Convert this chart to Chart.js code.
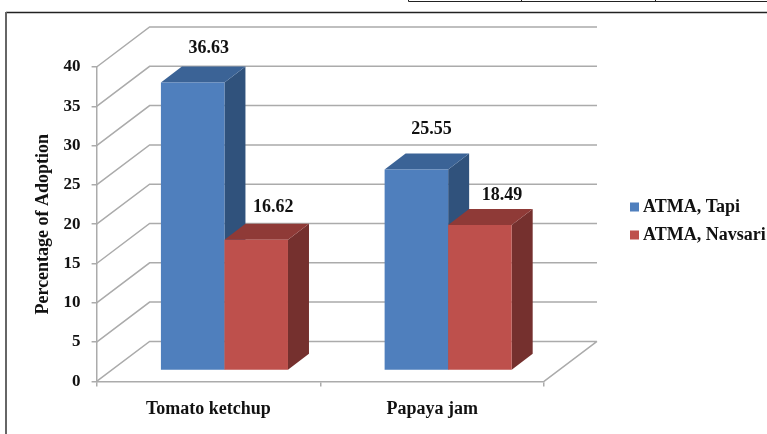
<!DOCTYPE html>
<html>
<head>
<meta charset="utf-8">
<style>
  html, body { margin: 0; padding: 0; background: #fff; }
  #wrap { width: 767px; height: 434px; }
</style>
<script src="https://cdn.jsdelivr.net/npm/chart.js"></script>
</head>
<body>
<div id="wrap"><canvas id="adoptionChart"></canvas></div>
<script>
// Data
const categories = ["Tomato ketchup", "Papaya jam"];
const seriesNames = ["ATMA, Tapi", "ATMA, Navsari"];
const tapiValues = [36.63, 25.55];
const navsariValues = [16.62, 18.49];
const yTicks = [0, 5, 10, 15, 20, 25, 30, 35, 40];

// Colours: front, top, side of each bar
const faceColors = ["#4f7fbd", "#be504c"];
const topColors = ["#3b6396", "#8f3a37"];
const sideColors = ["#30527c", "#75302e"];
const gridColor = "#ababab";

const serifFont = "'Liberation Serif', serif";

// 3D look: the back wall sits up and right of the axes, bars stand half way in
const wall = { dx: 53, dy: -40 };
const barShift = { dx: 16, dy: -11 };
const barDepth = { dx: 21, dy: -16 };
// data labels were hand placed in the original, nudge per dataset/category
const labelNudge = [
    [{ x: 16, y: -34 }, { x: 15, y: -40 }],
    [{ x: 17, y: -32 }, { x: 22, y: -30 }]
];
// legend sits well away from the plot, so it is drawn by hand
const legendPos = { boxX: 630, textX: 643, rows: [207, 235], box: 9 };

const fake3d = {
    id: "fake3d",
    beforeDraw(chart) {
        const ctx = chart.ctx;
        // page frame and the bit of table above it
        ctx.save();
        ctx.strokeStyle = "#222";
        ctx.lineWidth = 1;
        ctx.beginPath();
        ctx.moveTo(408.5, 0);
        ctx.lineTo(408.5, 1.5);
        ctx.lineTo(767, 1.5);
        ctx.moveTo(521.5, 0);
        ctx.lineTo(521.5, 1.5);
        ctx.moveTo(655.5, 0);
        ctx.lineTo(655.5, 1.5);
        ctx.stroke();
        ctx.lineWidth = 1.5;
        ctx.beginPath();
        ctx.moveTo(767, 12.5);
        ctx.lineTo(6, 12.5);
        ctx.stroke();
        ctx.strokeStyle = "#666";
        ctx.lineWidth = 2;
        ctx.beginPath();
        ctx.moveTo(6, 12);
        ctx.lineTo(6, 434);
        ctx.stroke();

        // wall grid lines and floor edge
        const x0 = chart.chartArea.left;
        const x1 = chart.chartArea.right;
        const yScale = chart.scales.y;
        ctx.strokeStyle = gridColor;
        ctx.lineWidth = 1.5;
        ctx.beginPath();
        yTicks.forEach(function (t) {
            const y = yScale.getPixelForValue(t);
            ctx.moveTo(x0, y);
            ctx.lineTo(x0 + wall.dx, y + wall.dy);
            ctx.lineTo(x1 + wall.dx, y + wall.dy);
        });
        const yBase = yScale.getPixelForValue(0);
        ctx.moveTo(x1, yBase);
        ctx.lineTo(x1 + wall.dx, yBase + wall.dy);
        ctx.stroke();
        ctx.restore();
    },
    // draw the bars here so that the first series sits behind the second
    beforeDatasetsDraw(chart) {
        const ctx = chart.ctx;
        ctx.save();
        ctx.translate(barShift.dx, barShift.dy);
        chart.data.datasets.forEach(function (ds, i) {
            chart.getDatasetMeta(i).data.forEach(function (bar) {
                const left = bar.x - bar.width / 2;
                const right = bar.x + bar.width / 2;
                ctx.fillStyle = sideColors[i];
                ctx.beginPath();
                ctx.moveTo(right, bar.y);
                ctx.lineTo(right + barDepth.dx, bar.y + barDepth.dy);
                ctx.lineTo(right + barDepth.dx, bar.base + barDepth.dy);
                ctx.lineTo(right, bar.base);
                ctx.closePath();
                ctx.fill();
                ctx.fillStyle = topColors[i];
                ctx.beginPath();
                ctx.moveTo(left, bar.y);
                ctx.lineTo(left + barDepth.dx, bar.y + barDepth.dy);
                ctx.lineTo(right + barDepth.dx, bar.y + barDepth.dy);
                ctx.lineTo(right, bar.y);
                ctx.closePath();
                ctx.fill();
                bar.draw(ctx);
            });
        });
        ctx.restore();
        return false;
    },
    afterDraw(chart) {
        const ctx = chart.ctx;
        ctx.save();
        ctx.fillStyle = "#111";
        ctx.font = "bold 18px " + serifFont;
        ctx.textAlign = "center";
        ctx.textBaseline = "middle";
        chart.data.datasets.forEach(function (ds, i) {
            chart.getDatasetMeta(i).data.forEach(function (bar, j) {
                const nudge = labelNudge[i][j];
                ctx.fillText(ds.data[j].toFixed(2), bar.x + barShift.dx + nudge.x, bar.y + barShift.dy + nudge.y);
            });
        });
        // legend
        ctx.textAlign = "left";
        seriesNames.forEach(function (name, i) {
            const y = legendPos.rows[i];
            ctx.fillStyle = faceColors[i];
            ctx.fillRect(legendPos.boxX, y - legendPos.box / 2, legendPos.box, legendPos.box);
            ctx.fillStyle = "#111";
            ctx.fillText(name, legendPos.textX, y);
        });
        ctx.restore();
    }
};

new Chart(document.getElementById("adoptionChart"), {
    type: "bar",
    data: {
        labels: categories,
        datasets: [
            { label: seriesNames[0], data: tapiValues, backgroundColor: faceColors[0] },
            { label: seriesNames[1], data: navsariValues, backgroundColor: faceColors[1] }
        ]
    },
    options: {
        responsive: true,
        maintainAspectRatio: false,
        animation: false,
        layout: { padding: { left: 33, top: 67, right: 223, bottom: 2 } },
        datasets: { bar: { barPercentage: 1, categoryPercentage: 0.568 } },
        plugins: {
            tooltip: { enabled: false },
            legend: { display: false }
        },
        scales: {
            x: {
                grid: { drawOnChartArea: false, color: gridColor, tickLength: 5, lineWidth: 1.5 },
                border: { color: gridColor, width: 1.5 },
                ticks: { color: "#111", padding: 12, font: { family: serifFont, size: 18, weight: "bold" } }
            },
            y: {
                min: 0,
                max: 40,
                afterBuildTicks(axis) {
                    axis.ticks = yTicks.map(function (v) { return { value: v }; });
                },
                title: {
                    display: true,
                    text: "Percentage of Adoption",
                    color: "#111",
                    padding: { top: 0, bottom: -2 },
                    font: { family: serifFont, size: 18, weight: "bold" }
                },
                grid: { drawOnChartArea: false, color: gridColor, tickLength: 5, lineWidth: 1.5 },
                border: { color: gridColor, width: 1.5 },
                ticks: { color: "#111", padding: 11, font: { family: serifFont, size: 17, weight: "bold" } }
            }
        }
    },
    plugins: [fake3d]
});
</script>
</body>
</html>
